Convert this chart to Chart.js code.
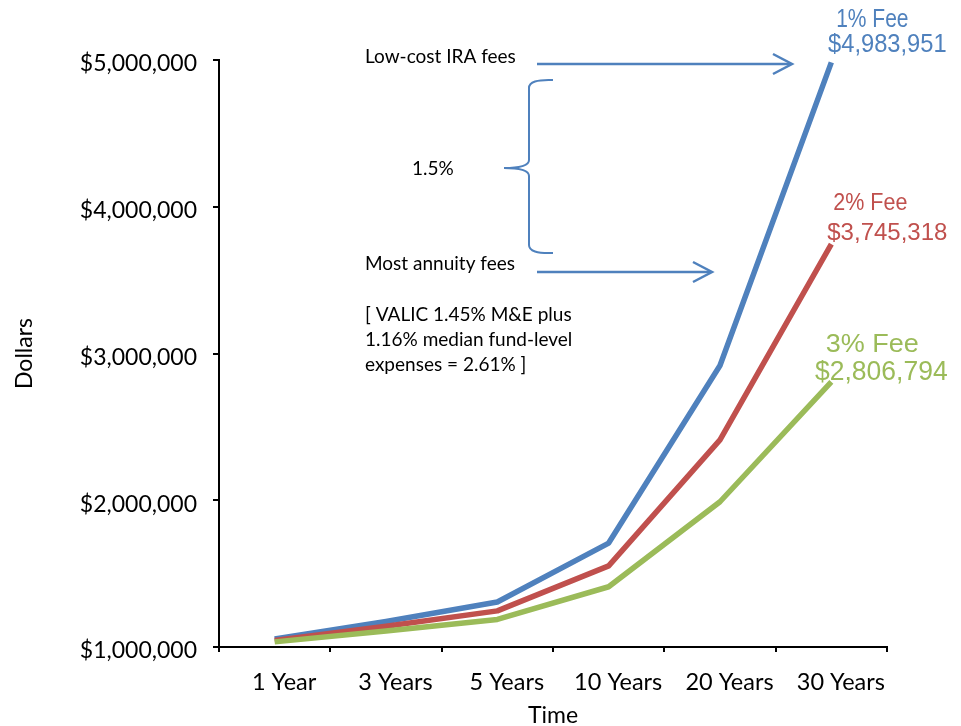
<!DOCTYPE html>
<html>
<head>
<meta charset="utf-8">
<script src="https://cdn.jsdelivr.net/npm/chart.js@4/dist/chart.umd.min.js"></script>
<style>
  html, body { margin: 0; padding: 0; background: #ffffff; }
  #wrap { width: 961px; height: 726px; }
</style>
</head>
<body>
<div id="wrap"><canvas id="growth" width="961" height="726"></canvas></div>
<script>
// Growth of $1,000,000 under three annual fee levels
const categories = ['1 Year', '3 Years', '5 Years', '10 Years', '20 Years', '30 Years'];
const fee1Values = [1055000, 1174241, 1306960, 1708144, 2917757, 4983951];
const fee2Values = [1045000, 1141166, 1246182, 1552969, 2411714, 3745318];
const fee3Values = [1035000, 1108718, 1187686, 1410599, 1989789, 2806794];
const seriesNames = ['1% Fee', '2% Fee', '3% Fee'];
const yTickValues = [1000000, 2000000, 3000000, 4000000, 5000000];

const BLUE = '#4F81BD';
const RED = '#C0504D';
const GREEN = '#9BBB59';
const TEXT_FONT = 'Lato, Calibri, "Open Sans", sans-serif';
const LABEL_FONT = '"Liberation Sans", Arial, sans-serif';

const money = v => '$' + Number(v).toLocaleString('en-US');

// End-of-line captions: offsets from the final point of each series
const endCaptionStyle = [
  { fee: { dx: 41, dy: -35, size: 21, sy: 1.2 },  value: { dx: 56, dy: -10, size: 23.7, sy: 1.06 } },
  { fee: { dx: 39, dy: -34, size: 21.5, sy: 1.12 }, value: { dx: 56, dy: -4, size: 24, sy: 1.0 } },
  { fee: { dx: 41, dy: -30, size: 27, sy: 0.98 },  value: { dx: 50, dy: -2, size: 26.5, sy: 1.05 } }
];

function stretchedText(ctx, text, cx, baseline, size, sy, color) {
  ctx.save();
  ctx.translate(cx, baseline);
  ctx.scale(1, sy);
  ctx.font = size + 'px ' + LABEL_FONT;
  ctx.fillStyle = color;
  ctx.textAlign = 'center';
  ctx.textBaseline = 'alphabetic';
  ctx.fillText(text, 0, 0);
  ctx.restore();
}

function arrow(ctx, x1, x2, y) {
  ctx.beginPath();
  ctx.moveTo(x1, y);
  ctx.lineTo(x2 - 1, y);
  ctx.stroke();
  ctx.beginPath();
  ctx.moveTo(x2 - 19, y - 10);
  ctx.lineTo(x2, y);
  ctx.lineTo(x2 - 19, y + 10);
  ctx.stroke();
}

const notesPlugin = {
  id: 'feeNotes',
  afterDatasetsDraw(chart) {
    const ctx = chart.ctx;
    ctx.save();

    // explanatory notes
    ctx.fillStyle = '#000';
    ctx.font = '19px ' + TEXT_FONT;
    ctx.textAlign = 'left';
    ctx.textBaseline = 'alphabetic';
    ctx.fillText('Low-cost IRA fees', 365, 63);
    ctx.fillText('1.5%', 412, 175);
    ctx.fillText('Most annuity fees', 365, 270);
    ctx.fillText('[ VALIC 1.45% M&E plus', 365, 321);
    ctx.fillText('1.16% median fund-level', 365, 346);
    ctx.fillText('expenses = 2.61% ]', 365, 371);

    // arrows and brace
    ctx.strokeStyle = BLUE;
    ctx.lineWidth = 2.5;
    ctx.lineCap = 'butt';
    ctx.lineJoin = 'miter';
    arrow(ctx, 537, 792, 64);
    arrow(ctx, 537, 712, 272);

    ctx.lineWidth = 2;
    ctx.beginPath();
    ctx.moveTo(553, 80);
    ctx.quadraticCurveTo(529, 79, 529, 88);
    ctx.lineTo(529, 160);
    ctx.quadraticCurveTo(529, 168, 504, 168);
    ctx.quadraticCurveTo(529, 168, 529, 176);
    ctx.lineTo(529, 245);
    ctx.quadraticCurveTo(529, 254, 553, 253);
    ctx.stroke();

    // captions at the end of each series
    const colors = [BLUE, RED, GREEN];
    chart.data.datasets.forEach((ds, i) => {
      const meta = chart.getDatasetMeta(i);
      const last = meta.data[meta.data.length - 1];
      const st = endCaptionStyle[i];
      const value = ds.data[ds.data.length - 1];
      stretchedText(ctx, seriesNames[i], last.x + st.fee.dx, last.y + st.fee.dy, st.fee.size, st.fee.sy, colors[i]);
      stretchedText(ctx, money(value), last.x + st.value.dx, last.y + st.value.dy, st.value.size, st.value.sy, colors[i]);
    });

    ctx.restore();
  }
};

const axisGrid = {
  drawOnChartArea: false,
  drawTicks: true,
  tickLength: 6,
  color: '#000',
  lineWidth: 2
};

new Chart(document.getElementById('growth'), {
  type: 'line',
  data: {
    labels: categories,
    datasets: [
      { label: seriesNames[0], data: fee1Values, borderColor: BLUE, backgroundColor: BLUE, order: 2 },
      { label: seriesNames[1], data: fee2Values, borderColor: RED, backgroundColor: RED, order: 1 },
      { label: seriesNames[2], data: fee3Values, borderColor: GREEN, backgroundColor: GREEN, order: 0 }
    ]
  },
  options: {
    responsive: false,
    animation: false,
    layout: { padding: { top: 60, right: 74, bottom: 0, left: 0 } },
    elements: {
      line: { borderWidth: 5.5, tension: 0, fill: false, borderCapStyle: 'butt', borderJoinStyle: 'round' },
      point: { radius: 0, hoverRadius: 0 }
    },
    plugins: {
      legend: { display: false },
      tooltip: { enabled: false }
    },
    scales: {
      x: {
        offset: true,
        grid: Object.assign({ offset: true }, axisGrid, { tickLength: 5 }),
        border: { color: '#000', width: 2 },
        ticks: {
          color: '#000',
          font: { family: TEXT_FONT, size: 23.5 },
          padding: 16,
          labelOffset: 9.5,
          maxRotation: 0,
          autoSkip: false
        },
        title: {
          display: true,
          text: 'Time',
          color: '#000',
          font: { family: TEXT_FONT, size: 23 },
          padding: { top: 0, bottom: -3 }
        },
        afterFit(scale) { scale.height = 79; }
      },
      y: {
        min: 1000000,
        max: 5000000,
        afterBuildTicks(scale) { scale.ticks = yTickValues.map(v => ({ value: v })); },
        grid: axisGrid,
        border: { color: '#000', width: 2 },
        ticks: {
          color: '#000',
          font: { family: TEXT_FONT, size: 23 },
          padding: 16,
          labelOffset: 4,
          callback: v => money(v)
        },
        title: {
          display: true,
          text: 'Dollars',
          color: '#000',
          font: { family: TEXT_FONT, size: 23 },
          padding: { top: 11, bottom: 0 }
        },
        afterFit(scale) { scale.width = 219; }
      }
    }
  },
  plugins: [notesPlugin]
});
</script>
</body>
</html>
